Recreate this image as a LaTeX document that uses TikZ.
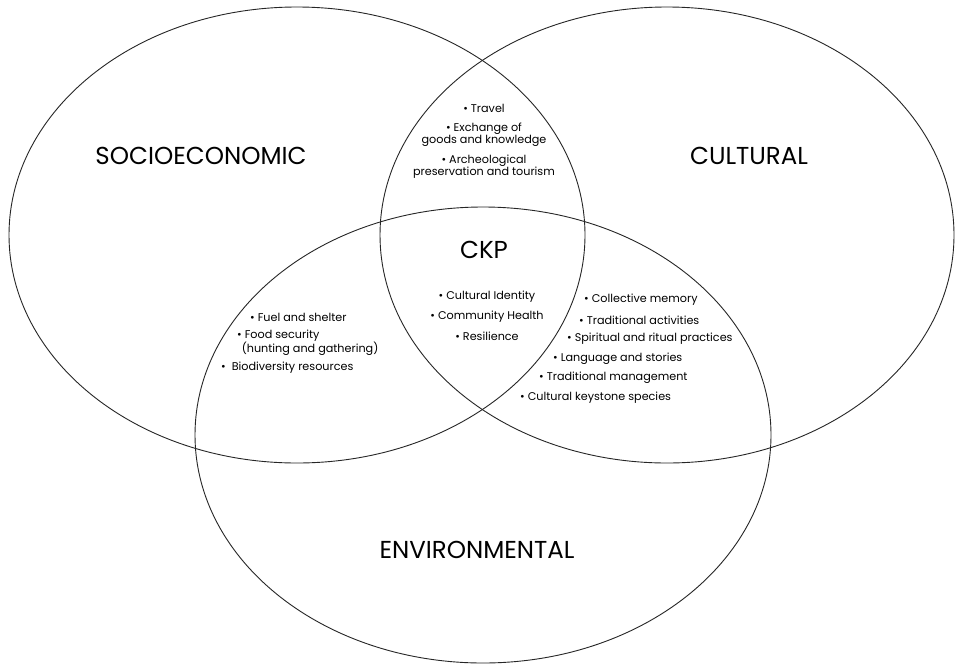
\documentclass[tikz,border=0pt]{standalone}
\usepackage{fontspec}
\setmainfont{Poppins}
\begin{document}
\begin{tikzpicture}[x=1pt,y=-1pt,
  ring/.style={draw=black!85, line width=0.9pt},
  big/.style={font=\fontsize{24.5}{28}\selectfont, inner sep=0pt},
  small/.style={font=\fontsize{11.2}{12.3}\selectfont, inner sep=0pt, align=center},
  item/.style={font=\fontsize{11.2}{12.3}\selectfont, inner sep=0pt, anchor=west}]
\useasboundingbox (0,0) rectangle (957,664);
\fill[white] (0,0) rectangle (957,664);
\draw[ring] (297,235) ellipse [x radius=288, y radius=228];
\draw[ring] (667,235) ellipse [x radius=287, y radius=228];
\draw[ring] (483,435) ellipse [x radius=288, y radius=228];

\node[big] (socio) at (201,156) {SOCIOECONOMIC};
\node[big] (cult) at (749,156) {CULTURAL};
\node[big] (env) at (477,550) {ENVIRONMENTAL};
\node[big] (ckp) at (484,250) {CKP};

\node[small] (t1) at (484,108) {• Travel};
\node[small] (t2) at (484,135) {• Exchange of\\goods and knowledge};
\node[small] (t3) at (484,167) {• Archeological\\preservation and tourism};

\node[small] (c1) at (487,297) {• Cultural Identity};
\node[small] (c2) at (487,317) {• Community Health};
\node[small] (c3) at (487,336) {• Resilience};

\node[item] (l1) at (250,317) {• Fuel and shelter};
\node[item, align=left] (l2) at (237,343) {• Food security\\\hphantom{•}(hunting and gathering)};
\node[item] (l3) at (221,368) {•\ \ Biodiversity resources};

\node[item] (r1) at (584,300) {• Collective memory};
\node[item] (r2) at (579,320) {• Traditional activities};
\node[item] (r3) at (567,339) {• Spiritual and ritual practices};
\node[item] (r4) at (553,359) {• Language and stories};
\node[item] (r5) at (539,378) {• Traditional management};
\node[item] (r6) at (520,398) {• Cultural keystone species};
\end{tikzpicture}
\end{document}
